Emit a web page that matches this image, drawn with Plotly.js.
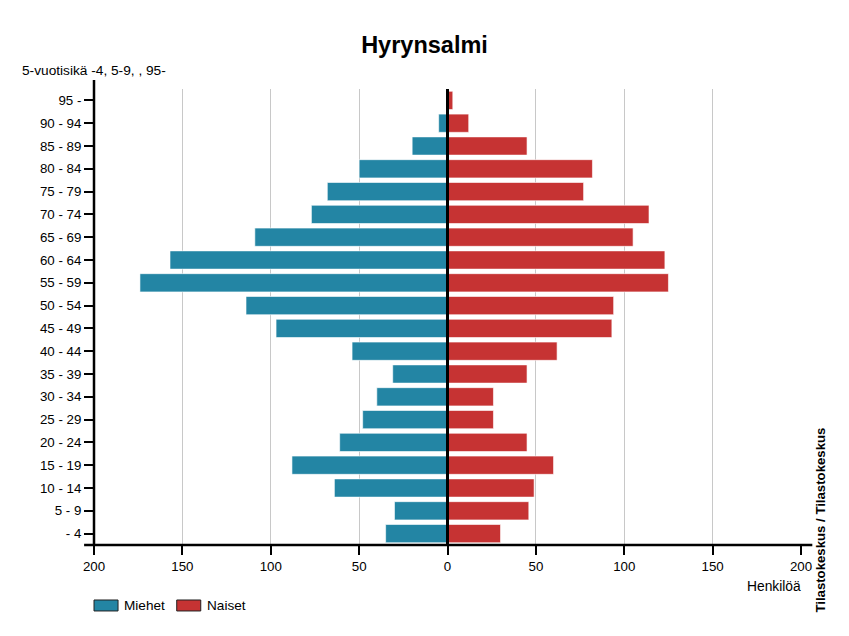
<!DOCTYPE html>
<html>
<head>
<meta charset="utf-8">
<script src="https://cdn.plot.ly/plotly-3.0.1.min.js"></script>
<style>body{margin:0;padding:0;background:#fff}#chart{width:849px;height:636px}</style>
</head>
<body>
<div id="chart"></div>
<script>
const ageGroups = ["- 4","5 - 9","10 - 14","15 - 19","20 - 24","25 - 29","30 - 34","35 - 39","40 - 44","45 - 49","50 - 54","55 - 59","60 - 64","65 - 69","70 - 74","75 - 79","80 - 84","85 - 89","90 - 94","95 -"];
const men   = [35, 30, 64, 88, 61, 48, 40, 31, 54, 97, 114, 174, 157, 109, 77, 68, 50, 20, 5, 0];
const women = [30, 46, 49, 60, 45, 26, 26, 45, 62, 93, 94, 125, 123, 105, 114, 77, 82, 45, 12, 3];
const tickVals = [-200,-150,-100,-50,0,50,100,150,200];
const tickText = ["200","150","100","50","0","50","100","150","200"];

const FONT = "Liberation Sans, Arial, sans-serif";
const BLUE = "#2385a4";
const RED = "#c63333";

const traces = [
  {type:"bar", orientation:"h", name:"Miehet", y:ageGroups, x:men.map(v=>-v),
   customdata:men, hovertemplate:"%{y}: %{customdata}<extra>Miehet</extra>",
   marker:{color:BLUE, line:{color:"rgba(255,255,255,0.6)", width:1}}},
  {type:"bar", orientation:"h", name:"Naiset", y:ageGroups, x:women,
   hovertemplate:"%{y}: %{x}<extra>Naiset</extra>",
   marker:{color:RED, line:{color:"rgba(255,255,255,0.6)", width:1}}}
];

const layout = {
  width:849, height:636,
  margin:{l:94, r:48, t:89, b:91, pad:0},
  paper_bgcolor:"#fff", plot_bgcolor:"#fff",
  font:{family:FONT, size:13, color:"#000"},
  showlegend:false,
  barmode:"relative", bargap:0.2,
  title:{text:"<b>Hyrynsalmi</b>", x:0.5, xanchor:"center", y:0.929, yanchor:"middle", font:{family:FONT, size:23.5, color:"#000"}},
  xaxis:{range:[-200,200], tickvals:tickVals, ticktext:tickText, showgrid:true, gridcolor:"#c8c8c8", gridwidth:1,
         zeroline:false, ticks:"outside", ticklen:9, tickwidth:2, tickcolor:"#000", showline:false,
         tickfont:{family:FONT, size:13.3, color:"#000"}, fixedrange:true},
  yaxis:{type:"category", categoryorder:"array", categoryarray:ageGroups, range:[-0.5,19.5],
         ticks:"outside", ticklen:9, tickwidth:1.5, tickcolor:"#000", showgrid:false, zeroline:false, showline:false,
         tickfont:{family:FONT, size:13.3, color:"#000"}, fixedrange:true},
  shapes:[
    {type:"line", xref:"x", yref:"paper", x0:0, x1:0, y0:0, y1:1, line:{color:"#000", width:3}},
    {type:"line", xref:"paper", yref:"paper", x0:0, x1:0, y0:0, y1:1.02, line:{color:"#000", width:2.5}},
    {type:"line", xref:"paper", yref:"paper", x0:-0.014, x1:1.016, y0:0, y1:0, line:{color:"#000", width:2.5}},
    {type:"rect", xref:"paper", yref:"paper", x0:0, x1:0.034, y0:-0.1447, y1:-0.1206, fillcolor:BLUE, line:{color:"#222", width:1}},
    {type:"rect", xref:"paper", yref:"paper", x0:0.117, x1:0.151, y0:-0.1447, y1:-0.1206, fillcolor:RED, line:{color:"#222", width:1}}
  ],
  annotations:[
    {text:"5-vuotisikä -4, 5-9, , 95-", xref:"paper", yref:"paper", x:-0.104, y:1.04, xanchor:"left", yanchor:"middle", showarrow:false, font:{family:FONT, size:13.7, color:"#000"}},
    {text:"Henkilöä", xref:"paper", yref:"paper", x:1.003, y:-0.092, xanchor:"right", yanchor:"middle", showarrow:false, font:{family:FONT, size:13.8, color:"#000"}},
    {text:"<b>Tilastokeskus / Tilastokeskus</b>", xref:"paper", yref:"paper", x:1.027, y:-0.1535, xanchor:"center", yanchor:"bottom", textangle:-90, showarrow:false, font:{family:FONT, size:13.2, color:"#000"}},
    {text:"Miehet", xref:"paper", yref:"paper", x:0.039, y:-0.1327, xanchor:"left", yanchor:"middle", showarrow:false, font:{family:FONT, size:13.6, color:"#000"}},
    {text:"Naiset", xref:"paper", yref:"paper", x:0.157, y:-0.1327, xanchor:"left", yanchor:"middle", showarrow:false, font:{family:FONT, size:13.6, color:"#000"}}
  ]
};

Plotly.newPlot("chart", traces, layout, {displayModeBar:false});
</script>
</body>
</html>
